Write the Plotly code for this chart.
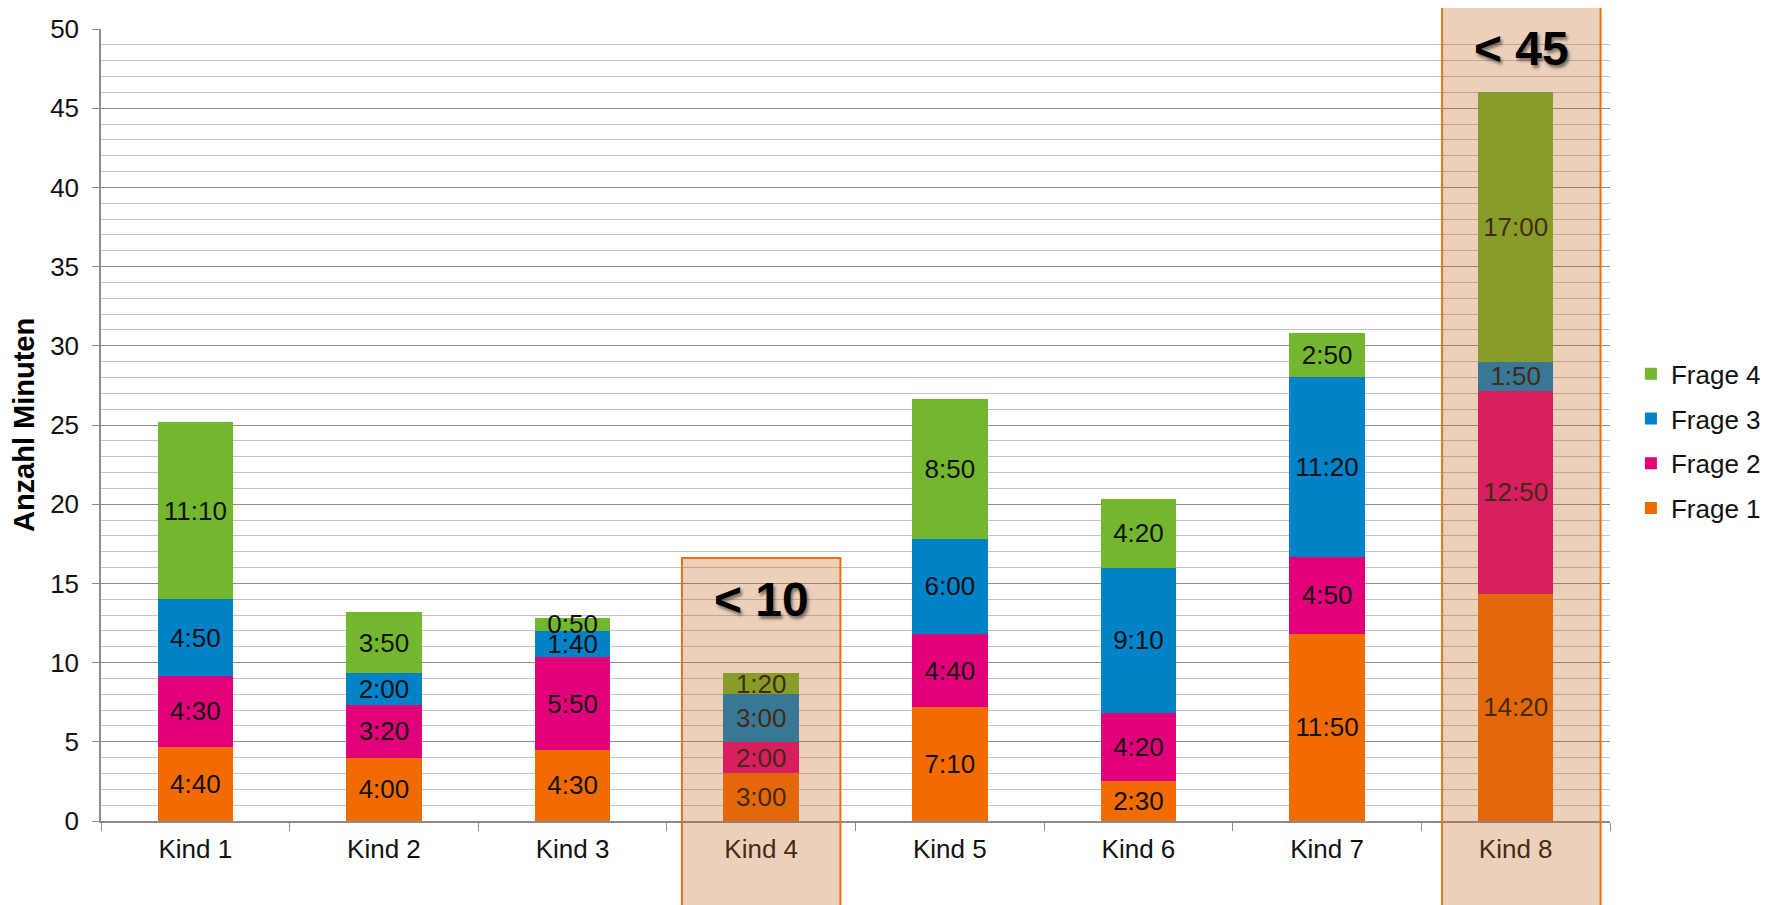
import plotly.graph_objects as go

kinder = ["Kind 1", "Kind 2", "Kind 3", "Kind 4", "Kind 5", "Kind 6", "Kind 7", "Kind 8"]
frage1 = ["4:40", "4:00", "4:30", "3:00", "7:10", "2:30", "11:50", "14:20"]
frage2 = ["4:30", "3:20", "5:50", "2:00", "4:40", "4:20", "4:50", "12:50"]
frage3 = ["4:50", "2:00", "1:40", "3:00", "6:00", "9:10", "11:20", "1:50"]
frage4 = ["11:10", "3:50", "0:50", "1:20", "8:50", "4:20", "2:50", "17:00"]
series_names = ["Frage 1", "Frage 2", "Frage 3", "Frage 4"]
series_labels = [frage1, frage2, frage3, frage4]
colors = ["#F26B00", "#E2007A", "#0082C8", "#72B72E"]

highlight_kinder = ["Kind 4", "Kind 8"]
highlight_text = ["< 10", "< 45"]
highlight_top = [16.6, 51.5]       # box top in minutes
highlight_label_y = [14.0, 48.8]   # label position in minutes
highlight_shift = [0.0, 0.03]


def to_minutes(s):
    m, sec = s.split(":")
    return int(m) + int(sec) / 60.0


FONT = "Liberation Sans, Arial, sans-serif"
FS = 26

fig = go.Figure()
for i, (name, labels, col) in enumerate(zip(series_names, series_labels, colors)):
    fig.add_trace(go.Bar(
        x=kinder,
        y=[to_minutes(s) for s in labels],
        name=name,
        text=labels,
        textposition="inside",
        insidetextanchor="middle",
        constraintext="none",
        textangle=0,
        textfont=dict(family=FONT, size=FS, color="#111111"),
        marker=dict(color=col, line=dict(width=0)),
        width=0.4,
        legendgroup=name,
        legendrank=len(series_names) - i,
    ))

shapes = []
annotations = []
for k, txt, top, ly, sh in zip(highlight_kinder, highlight_text, highlight_top,
                               highlight_label_y, highlight_shift):
    idx = kinder.index(k)
    shapes.append(dict(
        type="rect", xref="x", yref="paper",
        x0=idx - 0.42 + sh, x1=idx + 0.42 + sh,
        y0=-0.13, y1=top / 50.0,
        fillcolor="rgba(190,100,30,0.30)",
        line=dict(color="#F07010", width=2),
        layer="above",
    ))
    annotations.append(dict(
        x=idx + sh, y=ly, xref="x", yref="y", text="<b>" + txt + "</b>",
        showarrow=False,
        font=dict(family=FONT, size=48, color="#000000",
                  shadow="2px 3px 3px rgba(0,0,0,0.45)"),
    ))

annotations.append(dict(
    x=-0.051, y=0.5, xref="paper", yref="paper",
    xanchor="center", yanchor="middle",
    text="<b>Anzahl Minuten</b>", textangle=-90, showarrow=False,
    font=dict(family=FONT, size=29, color="#000000"),
))

fig.update_layout(
    width=1765, height=897,
    barmode="stack",
    paper_bgcolor="white",
    plot_bgcolor="white",
    margin=dict(l=93, r=163, t=21, b=84, autoexpand=False),
    font=dict(family=FONT, size=FS, color="#111111"),
    shapes=shapes,
    annotations=annotations,
    showlegend=True,
    legend=dict(
        xref="container", yref="container",
        x=0.9195, y=0.517, xanchor="left", yanchor="middle",
        traceorder="grouped", tracegroupgap=8,
        font=dict(family=FONT, size=FS, color="#111111"),
        bgcolor="rgba(0,0,0,0)",
    ),
)

fig.update_xaxes(
    type="category",
    range=[-0.5, 7.5],
    showline=True, linecolor="#8C8C8C", linewidth=1.5,
    ticks="outside", tickson="boundaries", ticklen=8, tickcolor="#8C8C8C",
    tickfont=dict(family=FONT, size=FS, color="#111111"),
    showgrid=False,
    ticklabelstandoff=4,
)
fig.update_yaxes(
    range=[0, 50],
    dtick=5, tick0=0,
    showline=True, linecolor="#8C8C8C", linewidth=1.5,
    ticks="outside", ticklen=7, tickcolor="#8C8C8C",
    tickfont=dict(family=FONT, size=FS, color="#111111"),
    showgrid=True, gridcolor="#8C8C8C", gridwidth=1.3,
    minor=dict(dtick=1, showgrid=True, gridcolor="#C4C4C4", gridwidth=1.3),
    zeroline=False,
    ticklabelstandoff=8,
)

fig.write_html("out.html")
